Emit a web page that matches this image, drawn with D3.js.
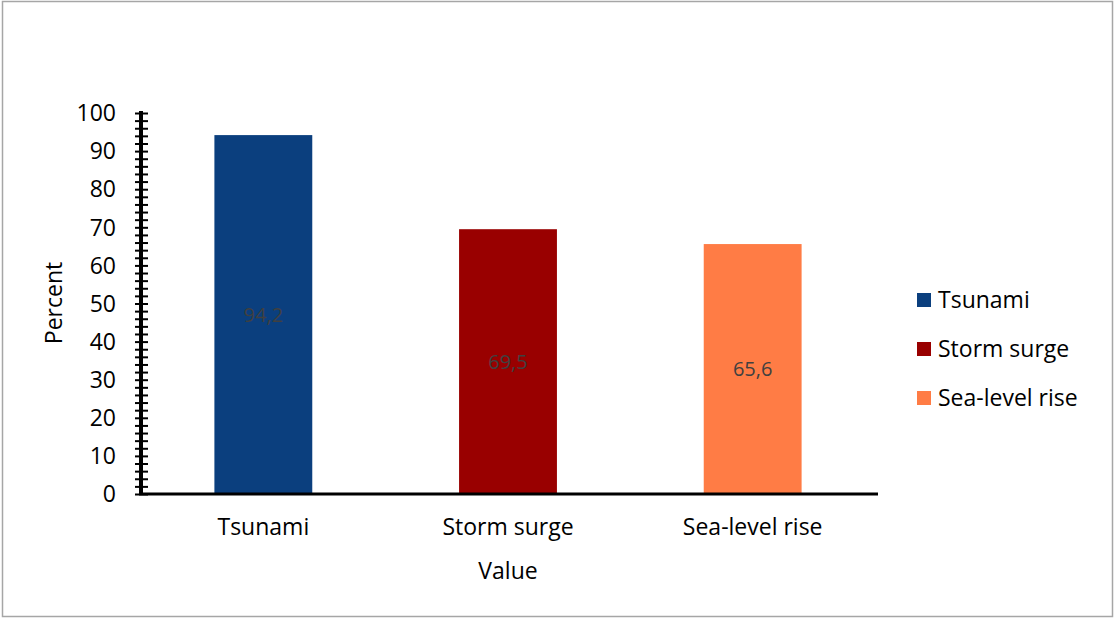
<!DOCTYPE html>
<html lang="en">
<head>
<meta charset="utf-8" />
<title>Percent by hazard</title>
<style>
  * {margin: 0; padding: 0;}
  body {background: #fff;}
  svg text {font-family: "Open Sans", sans-serif;}
</style>
</head>
<body>
<div id="viz"></div>
<script src="https://cdn.jsdelivr.net/npm/d3@7"></script>
<script>
var categories = ["Tsunami", "Storm surge", "Sea-level rise"];
var values = [94.2, 69.5, 65.6];
var colors = ["#0b3f7e", "#990000", "#ff7c45"];
var valueLabels = ["94,2", "69,5", "65,6"];
var yTicks = [0, 10, 20, 30, 40, 50, 60, 70, 80, 90, 100];

var w = 1115, h = 619;
var svg = d3.select("#viz").append("svg").attr("width", w).attr("height", h);

// outer frame
svg.append("rect").attr("x", 2.5).attr("y", 1.5).attr("width", 1110).attr("height", 615)
  .style("fill", "#fff").style("stroke", "#a6a6a6").style("stroke-width", 1.5);

var pLeft = 141, pRight = 878, pTop = 113, pBottom = 494;

// bars sit in a slightly narrower band range than the axis line
var x = d3.scaleBand().domain(categories).range([pLeft, pRight - 3]).paddingInner(0.6).paddingOuter(0.3);
var y = d3.scaleLinear().domain([0, 100]).range([pBottom, pTop]);

// bars
svg.selectAll("rect.bar").data(categories).enter().append("rect")
  .attr("class", "bar")
  .attr("x", function(d){ return x(d); })
  .attr("width", x.bandwidth())
  .attr("y", function(d, i){ return y(values[i]); })
  .attr("height", function(d, i){ return y(0) - y(values[i]); })
  .style("fill", function(d, i){ return colors[i]; });

// value labels in the middle of each bar
svg.selectAll("text.val").data(categories).enter().append("text")
  .attr("x", function(d){ return x(d) + x.bandwidth() / 2; })
  .attr("y", function(d, i){ return (y(values[i]) + y(0)) / 2; })
  .attr("dy", "0.35em")
  .attr("text-anchor", "middle")
  .style("fill", "#404040").style("font-size", "20px")
  .text(function(d, i){ return valueLabels[i]; });

// y axis: minor ticks every 2, crossing the axis line
var yAxis = d3.axisLeft(y).tickValues(d3.range(0, 101, 2)).tickSize(6).tickFormat("");
var gy = svg.append("g").attr("transform", "translate(" + pLeft + ",0)").call(yAxis);
gy.selectAll(".tick line").attr("x2", 7).attr("x1", -6).style("stroke", "#000").style("stroke-width", 2);
gy.select(".domain").attr("d", "M0," + (pTop - 2) + "V" + pBottom).style("stroke", "#000").style("stroke-width", 4);

svg.selectAll("text.ytick").data(yTicks).enter().append("text")
  .attr("x", 116).attr("y", function(d){ return y(d); })
  .attr("dy", "0.36em").attr("text-anchor", "end")
  .style("font-size", "23px").style("fill", "#000")
  .text(function(d){ return d; });

// x axis
var xAxis = d3.axisBottom(x).tickSize(0).tickPadding(25);
var gx = svg.append("g").attr("transform", "translate(0," + pBottom + ")").call(xAxis);
gx.select(".domain").attr("d", "M" + (pLeft - 2) + ",0H" + pRight).style("stroke", "#000").style("stroke-width", 3);
gx.selectAll(".tick text").style("font-size", "23px").style("fill", "#000")
  .style("font-family", "'Open Sans', sans-serif");

// axis titles
svg.append("text").attr("x", 508).attr("y", 579).attr("text-anchor", "middle")
  .style("font-size", "23px").text("Value");
svg.append("text").attr("transform", "translate(62,303) rotate(-90)").attr("text-anchor", "middle")
  .style("font-size", "23px").text("Percent");

// legend
var leg = svg.selectAll("g.leg").data(categories).enter().append("g")
  .attr("transform", function(d, i){ return "translate(917," + (300 + i * 49) + ")"; });
leg.append("rect").attr("x", 0).attr("y", -7).attr("width", 14).attr("height", 14)
  .style("fill", function(d, i){ return colors[i]; });
leg.append("text").attr("x", 21).attr("dy", "0.35em")
  .style("font-size", "23px").style("fill", "#000")
  .text(function(d){ return d; });
</script>
</body>
</html>
